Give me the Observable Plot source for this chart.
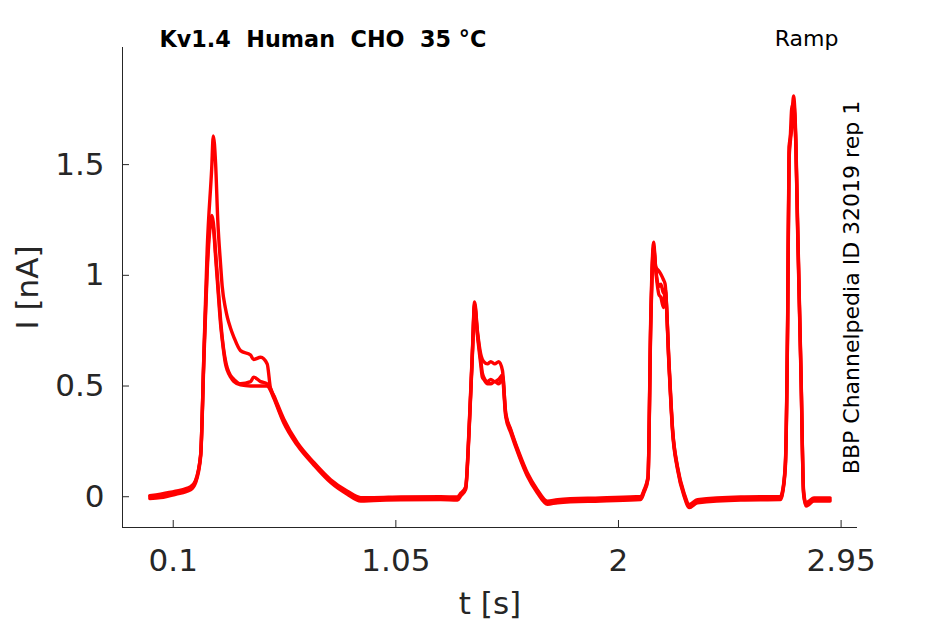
<!DOCTYPE html>
<html><head><meta charset="utf-8">
<script src="https://cdn.jsdelivr.net/npm/d3@7"></script>
<script src="https://cdn.jsdelivr.net/npm/@observablehq/plot@0.6"></script>
<style>
body{margin:0;background:#fff}
svg{display:block}
svg text{white-space:pre}
</style>
</head><body><div id="chart"></div>
<script>
// time samples (s)
const t = [
  0.000,0.046,0.110,0.174,0.195,0.217,0.231,0.245,0.264,0.271,
  0.281,0.290,0.302,0.309,0.323,0.331,0.345,0.359,0.387,0.430,
  0.443,0.473,0.501,0.515,0.530,0.572,0.629,0.700,0.772,0.843,
  0.900,0.955,1.071,1.241,1.313,1.327,1.348,1.362,1.377,1.386,
  1.398,1.412,1.419,1.425,1.441,1.455,1.472,1.489,1.505,1.519,
  1.540,1.576,1.611,1.654,1.697,1.740,1.924,2.095,2.109,2.126,
  2.138,2.150,2.159,2.172,2.181,2.192,2.199,2.216,2.231,2.252,
  2.280,2.302,2.337,2.522,2.691,2.698,2.712,2.722,2.728,2.733,
  2.739,2.747,2.757,2.764,2.779,2.790,2.800,2.813,2.834,2.903
];
// current traces (nA)
const trace1 = [
  0.005,0.012,0.025,0.045,0.073,0.190,0.650,1.120,1.480,1.630,
  1.500,1.250,1.050,0.950,0.850,0.810,0.760,0.720,0.660,0.640,
  0.620,0.630,0.600,0.490,0.455,0.350,0.245,0.155,0.077,0.025,
  -0.004,-0.004,-0.001,0.000,-0.001,0.016,0.045,0.300,0.670,0.880,
  0.750,0.645,0.620,0.610,0.600,0.610,0.600,0.610,0.570,0.378,
  0.305,0.198,0.108,0.031,-0.020,-0.013,-0.005,0.001,0.030,0.090,
  0.826,1.150,1.040,1.020,1.005,0.980,0.960,0.600,0.305,0.135,
  0.016,-0.035,-0.013,-0.001,0.001,0.016,0.150,0.830,1.580,1.620,
  1.680,1.810,1.610,1.260,0.560,0.025,-0.028,-0.020,-0.005,-0.005
];
const trace2 = [
  0.000,0.003,0.018,0.038,0.068,0.190,0.640,1.050,1.270,1.240,
  1.100,0.970,0.800,0.720,0.615,0.580,0.547,0.530,0.510,0.520,
  0.540,0.520,0.510,0.490,0.450,0.340,0.240,0.150,0.070,0.018,
  -0.012,-0.010,-0.007,-0.006,-0.008,0.010,0.040,0.290,0.660,0.870,
  0.740,0.620,0.560,0.540,0.520,0.530,0.520,0.530,0.550,0.370,
  0.300,0.190,0.100,0.024,-0.027,-0.020,-0.012,-0.006,0.025,0.085,
  0.800,1.130,1.030,0.950,0.960,0.920,0.940,0.590,0.300,0.130,
  0.009,-0.042,-0.020,-0.008,-0.006,0.010,0.140,0.800,1.550,1.620,
  1.750,1.780,1.590,1.240,0.550,0.018,-0.035,-0.028,-0.012,-0.012
];
const trace3 = [
  -0.008,-0.004,0.011,0.031,0.062,0.180,0.620,1.020,1.250,1.220,
  1.080,0.950,0.780,0.710,0.600,0.570,0.540,0.520,0.505,0.500,
  0.500,0.500,0.500,0.480,0.443,0.333,0.233,0.143,0.064,0.011,
  -0.020,-0.017,-0.014,-0.013,-0.015,0.004,0.033,0.280,0.650,0.860,
  0.730,0.600,0.540,0.530,0.510,0.510,0.520,0.510,0.530,0.360,
  0.290,0.183,0.093,0.017,-0.034,-0.027,-0.019,-0.013,0.019,0.080,
  0.780,1.120,1.020,0.915,0.900,0.855,0.930,0.580,0.290,0.123,
  0.002,-0.049,-0.027,-0.015,-0.013,0.004,0.130,0.780,1.520,1.600,
  1.660,1.760,1.580,1.220,0.540,0.011,-0.042,-0.035,-0.019,-0.019
];
const xTicks = [0.1, 1.05, 2, 2.95];
const yTicks = [0, 0.5, 1, 1.5];
const xDomain = [-0.1165, 3.02];
const yDomain = [-0.139, 2.029];
const titleText = "Kv1.4  Human  CHO  35 °C";
const protocolText = "Ramp";
const sideText = "BBP Channelpedia ID 32019 rep 1";
const xLabel = "t [s]";
const yLabel = "I [nA]";

const rows = [];
[trace1, trace2, trace3].forEach((s, k) => s.forEach((v, i) => rows.push({t: t[i], I: v, rep: k})));

const ink = "#262626";
const plot = Plot.plot({
  width: 945, height: 624,
  marginLeft: 122, marginRight: 88, marginTop: 47, marginBottom: 97,
  style: {fontFamily: "DejaVu Sans", background: "#fff", overflow: "visible"},
  x: {domain: xDomain},
  y: {domain: yDomain},
  marks: [
    Plot.line(rows, {x: "t", y: "I", z: "rep", stroke: "#ff0000", strokeWidth: 3.4, strokeLinejoin: "round", curve: "monotone-x"}),
    Plot.ruleX([xDomain[0]], {stroke: ink, strokeWidth: 1}),
    Plot.ruleY([yDomain[0]], {stroke: ink, strokeWidth: 1}),
    Plot.axisX({ticks: xTicks, tickSize: -7, tickPadding: 28, tickFormat: d => String(d), fontSize: 31, color: ink, label: null}),
    Plot.axisY({ticks: yTicks, tickSize: -7, tickPadding: 25, tickFormat: d => String(d), fontSize: 31, color: ink, label: null}),
    Plot.text([xLabel], {frameAnchor: "bottom", dy: 77, textAnchor: "middle", lineAnchor: "middle", fontSize: 31, fill: ink}),
    Plot.text([yLabel], {frameAnchor: "left", dx: -94, rotate: -90, textAnchor: "middle", lineAnchor: "middle", fontSize: 31, fill: ink}),
    Plot.text([titleText], {frameAnchor: "top-left", dx: 37, dy: -8, textAnchor: "start", lineAnchor: "middle", fontSize: 22.3, fontWeight: "bold", fill: "#000"}),
    Plot.text([protocolText], {frameAnchor: "top-right", dx: -19, dy: -9, textAnchor: "end", lineAnchor: "middle", fontSize: 22, fill: "#000"}),
    Plot.text([sideText], {frameAnchor: "right", dx: -6, rotate: -90, textAnchor: "middle", lineAnchor: "middle", fontSize: 22, fill: "#000"})
  ]
});
document.getElementById("chart").appendChild(plot);
</script>
</body></html>
